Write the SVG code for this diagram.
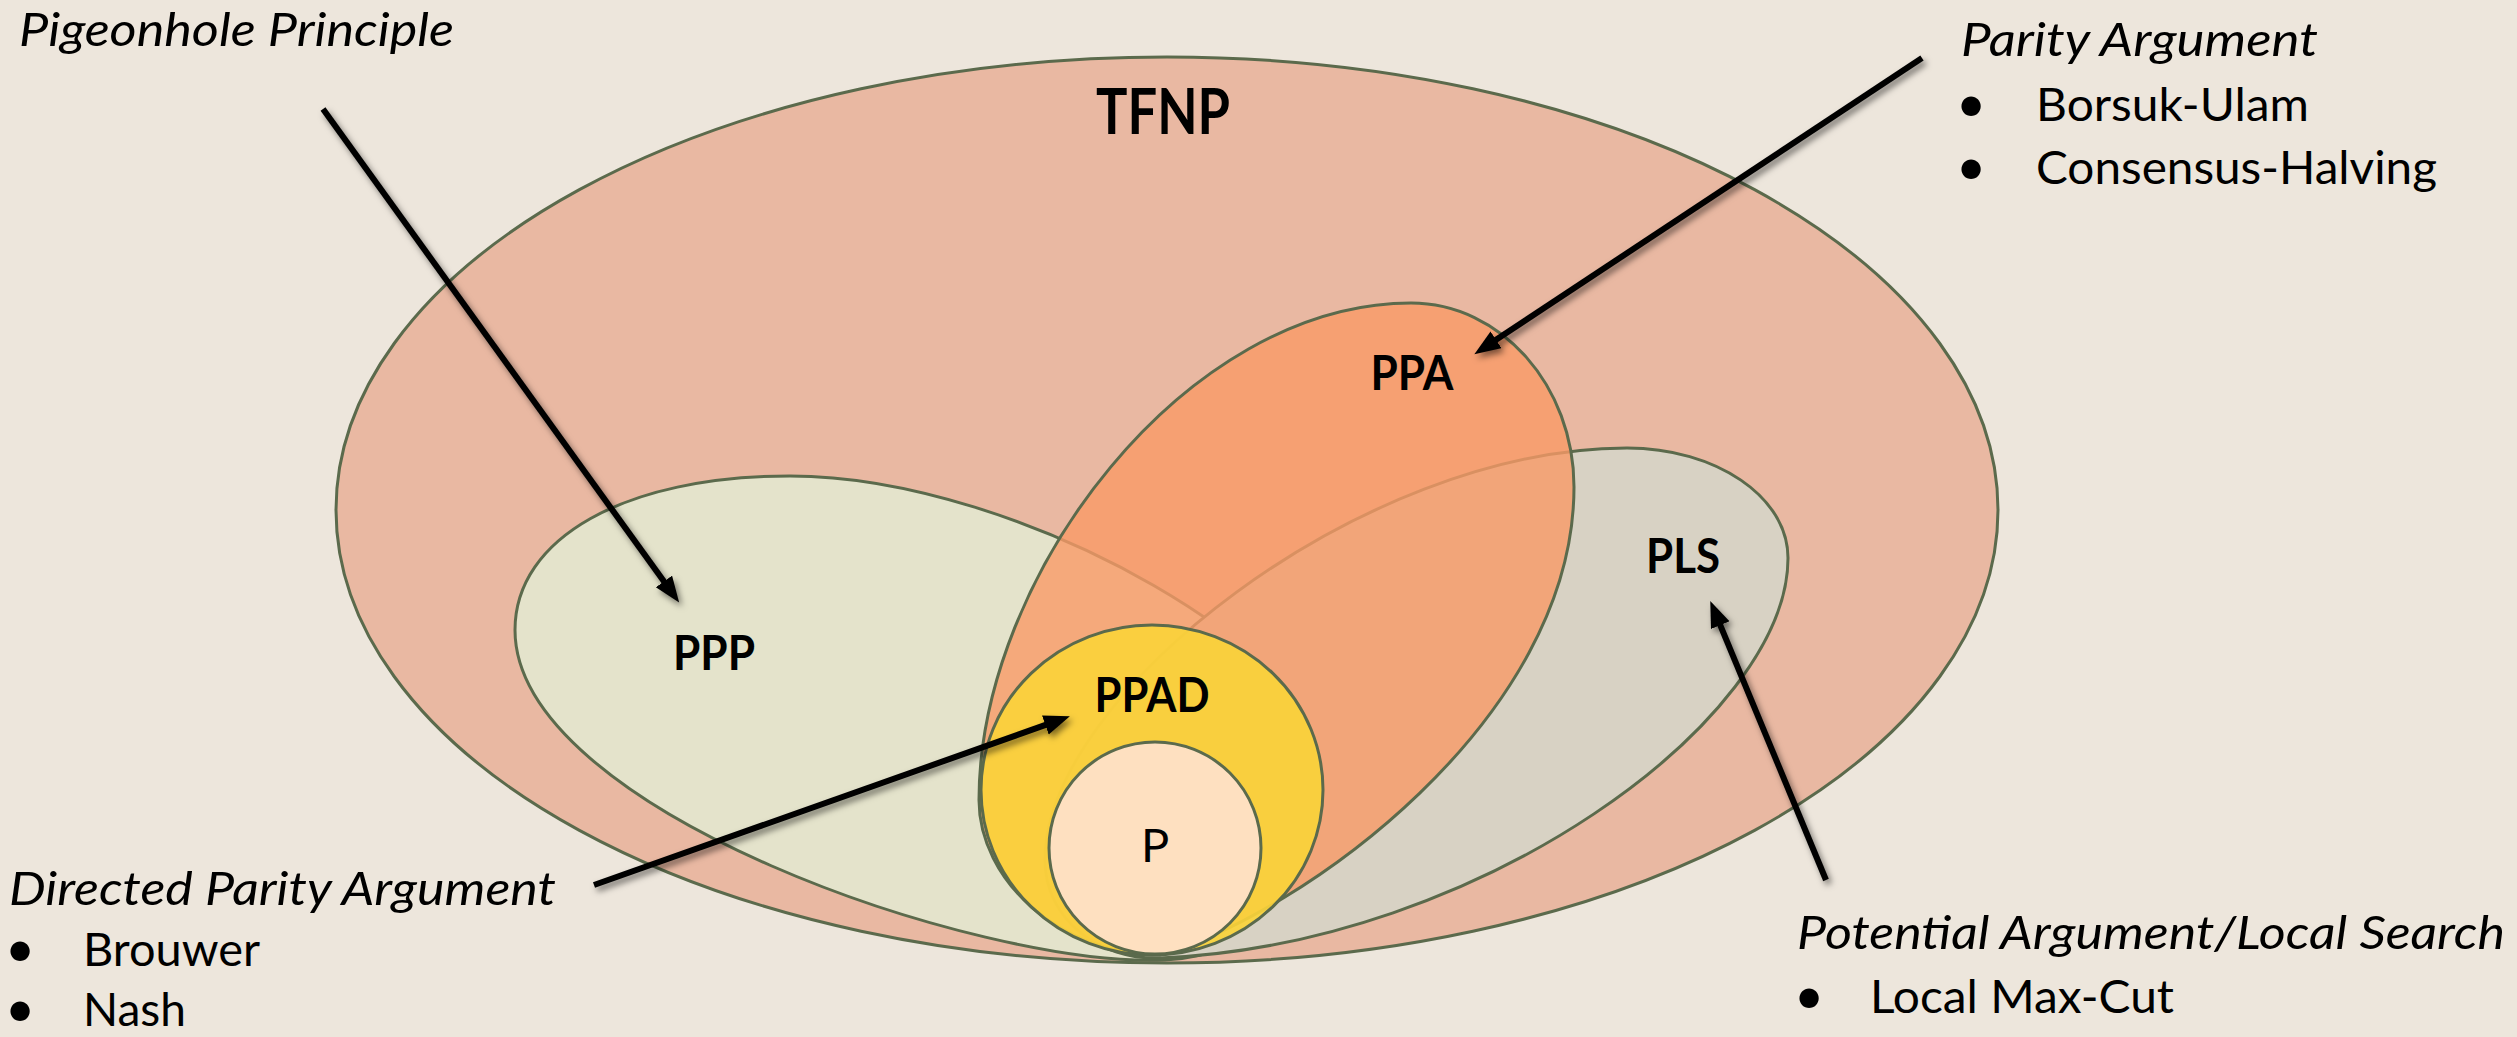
<svg xmlns="http://www.w3.org/2000/svg" width="2517" height="1037" viewBox="0 0 2517 1037">
<style>
.set{stroke:#5B6A4C;stroke-width:3}
.lbl{font-family:Lato,"Open Sans","DejaVu Sans",sans-serif;font-weight:bold;fill:#000;text-anchor:middle}
.it{font-family:Lato,"Open Sans","DejaVu Sans",sans-serif;font-style:italic;font-size:47px;fill:#000}
.tx{font-family:Lato,"Open Sans","DejaVu Sans",sans-serif;font-size:47px;fill:#000}
.bul{font-family:Lato,"DejaVu Sans",sans-serif;font-size:52px;fill:#000;text-anchor:middle}
.arr{stroke:#000;stroke-width:6;fill:none;marker-end:url(#head)}
</style>
<defs>
<marker id="head" markerUnits="userSpaceOnUse" markerWidth="28" markerHeight="22" refX="10" refY="10" orient="auto">
<path d="M0,0 L26,10 L0,20 Z" fill="#000"/>
</marker>
<filter id="shadow" x="-10%" y="-10%" width="130%" height="130%">
<feDropShadow dx="3" dy="4" stdDeviation="3" flood-color="#000" flood-opacity="0.5"/>
</filter>
</defs>
<rect x="0" y="0" width="2517" height="1037" fill="#EDE6DC"/>

<g id="tfnp">
<ellipse class="set" cx="1167" cy="510" rx="831" ry="453" fill="#E9B8A2"/>
<text class="lbl" x="1163" y="134" font-size="64" textLength="134" lengthAdjust="spacingAndGlyphs">TFNP</text>
</g>

<g id="ppp">
<path class="set" fill="#E4E3CB" d="M515,630 C515,538 625,476 790,476 C1020,476 1345,660 1345,800 C1345,880 1257,956 1165,960 C980,968 515,810 515,630 Z"/>
<text class="lbl" x="714" y="670" font-size="47" textLength="82" lengthAdjust="spacingAndGlyphs">PPP</text>
</g>

<g id="pls">
<path class="set" fill="#D8D2C4" d="M1627,448 C1716,448 1788,497 1788,558 C1788,720 1480,945 1160,958 C1100,960 1045,920 1045,860 C1045,695 1362,448 1627,448 Z"/>
<text class="lbl" x="1683" y="573" font-size="47" textLength="74" lengthAdjust="spacingAndGlyphs">PLS</text>
</g>

<g id="ppa">
<path class="set" fill="#F99A67" fill-opacity="0.8" d="M1411,303 C1501,303 1574,386 1574,487 C1574,720 1300,915 1160,955 C1060,955 979,880 979,800 C979,575 1186,303 1411,303 Z"/>
<text class="lbl" x="1412" y="390" font-size="47" textLength="83" lengthAdjust="spacingAndGlyphs">PPA</text>
</g>

<g id="ppad">
<ellipse class="set" cx="1152" cy="790" rx="171" ry="165" fill="#FAD33A" fill-opacity="0.92"/>
<text class="lbl" x="1152" y="712" font-size="47" textLength="115" lengthAdjust="spacingAndGlyphs">PPAD</text>
</g>

<g id="p">
<circle class="set" cx="1155" cy="848" r="106" fill="#FEE0C0"/>
<text class="tx" x="1155" y="862" font-size="40" text-anchor="middle">P</text>
</g>

<g id="connectors" filter="url(#shadow)">
<line class="arr" x1="323" y1="109" x2="669.8" y2="589.6"/>
<line class="arr" x1="1922" y1="58" x2="1487.7" y2="345.3"/>
<line class="arr" x1="594" y1="885" x2="1054.8" y2="721.7"/>
<line class="arr" x1="1826" y1="880" x2="1716.4" y2="615.9"/>
</g>

<g id="note-pigeonhole">
<text class="it" x="19" y="46" textLength="435" lengthAdjust="spacingAndGlyphs">Pigeonhole Principle</text>
</g>

<g id="note-parity">
<text class="it" x="1961" y="56" textLength="357" lengthAdjust="spacingAndGlyphs">Parity Argument</text>
<text class="bul" x="1971" y="122">•</text>
<text class="tx" x="2036" y="121" textLength="273" lengthAdjust="spacingAndGlyphs">Borsuk-Ulam</text>
<text class="bul" x="1971" y="185">•</text>
<text class="tx" x="2036" y="184" textLength="401" lengthAdjust="spacingAndGlyphs">Consensus-Halving</text>
</g>

<g id="note-directed">
<text class="it" x="9" y="905" textLength="547" lengthAdjust="spacingAndGlyphs">Directed Parity Argument</text>
<text class="bul" x="20" y="967">•</text>
<text class="tx" x="83" y="966" textLength="177" lengthAdjust="spacingAndGlyphs">Brouwer</text>
<text class="bul" x="20" y="1027">•</text>
<text class="tx" x="83" y="1026" textLength="103" lengthAdjust="spacingAndGlyphs">Nash</text>
</g>

<g id="note-potential">
<text class="it" x="1797" y="949" textLength="708" lengthAdjust="spacingAndGlyphs">Potential Argument/Local Search</text>
<text class="bul" x="1809" y="1014">•</text>
<text class="tx" x="1870" y="1013" textLength="304" lengthAdjust="spacingAndGlyphs">Local Max-Cut</text>
</g>
</svg>
